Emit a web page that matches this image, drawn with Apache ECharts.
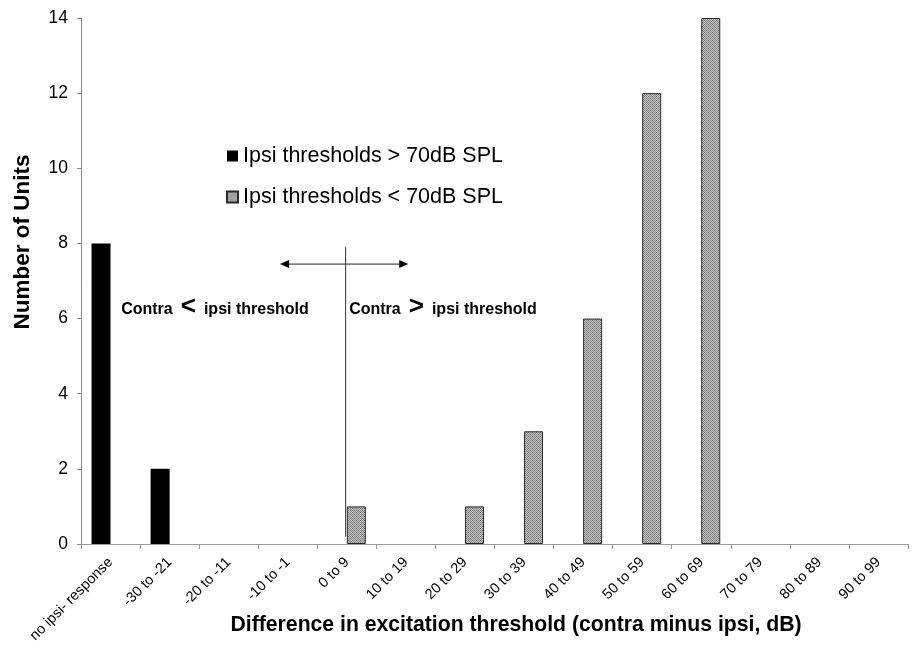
<!DOCTYPE html>
<html>
<head>
<meta charset="utf-8">
<script src="https://cdn.jsdelivr.net/npm/echarts@6/dist/echarts.min.js"></script>
<style>
  html, body { margin: 0; padding: 0; background: #fff; }
  #chart { width: 914px; height: 648px; }
</style>
</head>
<body>
<div id="chart"></div>
<script>
// Threshold-difference bins (contra minus ipsi, dB)
const categories = [
  'no ipsi- response', '-30 to -21', '-20 to -11', '-10 to -1', '0 to 9',
  '10 to 19', '20 to 29', '30 to 39', '40 to 49', '50 to 59',
  '60 to 69', '70 to 79', '80 to 89', '90 to 99'
];
const highThresholdName = 'Ipsi thresholds > 70dB SPL';
const lowThresholdName = 'Ipsi thresholds < 70dB SPL';
const highThresholdCounts = [8, 2, 0, 0, 0, 0, 0, 0, 0, 0, 0, 0, 0, 0];
const lowThresholdCounts  = [0, 0, 0, 0, 1, 0, 1, 3, 6, 12, 14, 0, 0, 0];
const yTicks = { min: 0, max: 14, interval: 2 };

const FONT = 'Liberation Sans, Arial, sans-serif';

// empty bins are left undrawn so no outline shows on the baseline
const asBars = arr => arr.map(v => (v === 0 ? '-' : v));

// fine stippled fill for the second series
function stipplePattern() {
  const c = document.createElement('canvas');
  c.width = 4; c.height = 4;
  const g = c.getContext('2d');
  g.fillStyle = '#c6c6c6';
  g.fillRect(0, 0, 4, 4);
  g.fillStyle = '#858585';
  for (let y = 0; y < 4; y++) {
    for (let x = 0; x < 4; x++) {
      if ((x + y) % 2 === 0) g.fillRect(x, y, 1, 1);
    }
  }
  g.fillStyle = '#6a6a6a';
  g.fillRect(0, 0, 1, 1);
  g.fillRect(2, 2, 1, 1);
  return { image: c, repeat: 'repeat' };
}

const chart = echarts.init(document.getElementById('chart'), null, { renderer: 'canvas' });

const option = {
  animation: false,
  backgroundColor: '#ffffff',
  grid: { left: 81, right: 6, top: 18, bottom: 104, containLabel: false },
  legend: {
    orient: 'vertical',
    left: 221,
    top: 140,
    itemGap: 19,
    itemWidth: 11,
    itemHeight: 11,
    icon: 'rect',
    textStyle: { fontFamily: FONT, fontSize: 21.5, color: '#000' },
    data: [highThresholdName, lowThresholdName]
  },
  xAxis: {
    type: 'category',
    data: categories,
    axisLine: { lineStyle: { color: '#9a9a9a', width: 1 } },
    axisTick: { show: true, length: 5, lineStyle: { color: '#9a9a9a' } },
    axisLabel: {
      rotate: 45,
      interval: 0,
      margin: 16,
      fontFamily: FONT,
      fontSize: 14.5,
      color: '#000'
    },
    splitLine: { show: false }
  },
  yAxis: {
    type: 'value',
    min: yTicks.min,
    max: yTicks.max,
    interval: yTicks.interval,
    axisLine: { show: true, lineStyle: { color: '#8a8a8a', width: 1 } },
    axisTick: { show: true, length: 4, lineStyle: { color: '#8a8a8a' } },
    axisLabel: { fontFamily: FONT, fontSize: 17.5, color: '#000', margin: 13 },
    splitLine: { show: false }
  },
  series: [
    {
      name: highThresholdName,
      type: 'bar',
      data: asBars(highThresholdCounts),
      barWidth: 19,
      barGap: '0%',
      itemStyle: { color: '#000', borderColor: '#000', borderWidth: 0 }
    },
    {
      name: lowThresholdName,
      type: 'bar',
      data: asBars(lowThresholdCounts),
      barWidth: 19,
      barGap: '0%',
      itemStyle: { color: stipplePattern(), borderColor: '#2a2a2a', borderWidth: 1 }
    }
  ]
};

chart.setOption(option);

// annotation overlay placed in data coordinates
function px(idx, val) {
  const a = chart.convertToPixel({ xAxisIndex: 0, yAxisIndex: 0 }, [0, val]);
  const b = chart.convertToPixel({ xAxisIndex: 0, yAxisIndex: 0 }, [1, val]);
  return [a[0] + (b[0] - a[0]) * idx, a[1]];
}

const divTop = px(3.98, 7.9), divBot = px(3.98, 0.2);
const arrL = px(2.87, 7.45), arrR = px(5.04, 7.45);
const leftNote = px(0.18, 6.25), rightNote = px(4.04, 6.25);
const ah = 9, aw = 4;

const noteRich = {
  b: { fontFamily: FONT, fontWeight: 'bold', fontSize: 16, color: '#111' },
  s: { fontFamily: FONT, fontWeight: 'bold', fontSize: 26, color: '#111', padding: [0, 8, 4, 8] }
};

chart.setOption({
  graphic: [
    {
      type: 'line', silent: true,
      shape: { x1: divTop[0], y1: divTop[1], x2: divBot[0], y2: divBot[1] },
      style: { stroke: '#333', lineWidth: 1 }
    },
    {
      type: 'line', silent: true,
      shape: { x1: arrL[0] + ah - 1, y1: arrL[1], x2: arrR[0] - ah + 1, y2: arrR[1] },
      style: { stroke: '#222', lineWidth: 1 }
    },
    {
      type: 'polygon', silent: true,
      shape: { points: [[arrL[0], arrL[1]], [arrL[0] + ah, arrL[1] - aw], [arrL[0] + ah, arrL[1] + aw]] },
      style: { fill: '#000' }
    },
    {
      type: 'polygon', silent: true,
      shape: { points: [[arrR[0], arrR[1]], [arrR[0] - ah, arrR[1] - aw], [arrR[0] - ah, arrR[1] + aw]] },
      style: { fill: '#000' }
    },
    {
      type: 'text', silent: true,
      x: leftNote[0], y: leftNote[1],
      style: {
        text: '{b|Contra}{s|<}{b|ipsi threshold}',
        rich: noteRich, verticalAlign: 'middle', align: 'left'
      }
    },
    {
      type: 'text', silent: true,
      x: rightNote[0], y: rightNote[1],
      style: {
        text: '{b|Contra}{s|>}{b|ipsi threshold}',
        rich: noteRich, verticalAlign: 'middle', align: 'left'
      }
    },
    {
      type: 'text', silent: true,
      x: 23, y: 242, rotation: Math.PI / 2,
      style: {
        text: 'Number of Units',
        fontFamily: FONT, fontWeight: 'bold', fontSize: 22.5, fill: '#000',
        align: 'center', verticalAlign: 'middle'
      }
    },
    {
      type: 'text', silent: true,
      x: 516, y: 625,
      style: {
        text: 'Difference in excitation threshold (contra minus ipsi, dB)',
        fontFamily: FONT, fontWeight: 'bold', fontSize: 21.2, fill: '#000',
        align: 'center', verticalAlign: 'middle'
      }
    }
  ]
});
</script>
</body>
</html>
